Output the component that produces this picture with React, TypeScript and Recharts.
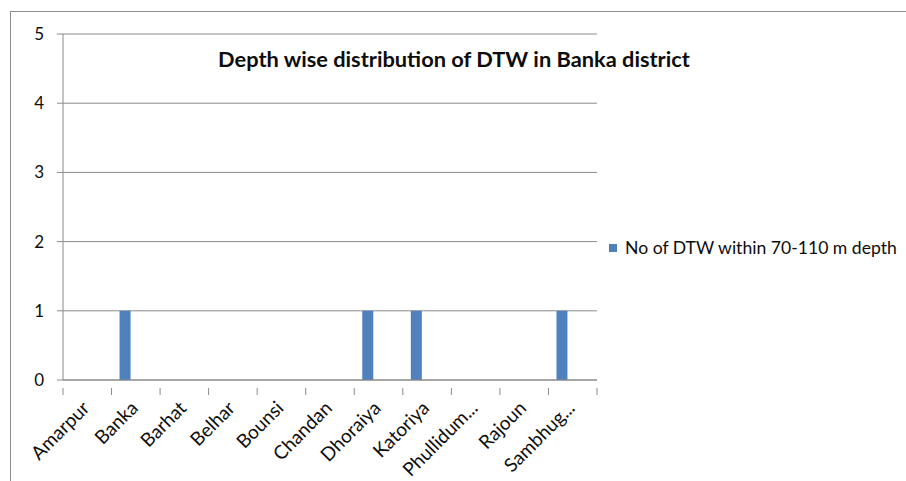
import React from "react";
import {
  Bar,
  BarChart,
  CartesianGrid,
  Customized,
  Legend,
  XAxis,
  YAxis,
} from "recharts";

// Blocks of Banka district
const districts = [
  "Amarpur",
  "Banka",
  "Barhat",
  "Belhar",
  "Bounsi",
  "Chandan",
  "Dhoraiya",
  "Katoriya",
  "Phullidum...",
  "Rajoun",
  "Sambhug...",
];

// Number of deep tube wells per block, 70-110 m band
const dtw70to110 = [0, 1, 0, 0, 0, 0, 1, 1, 0, 0, 1];
// Deeper bands share the category slots but hold no wells
const dtwBandB = [0, 0, 0, 0, 0, 0, 0, 0, 0, 0, 0];
const dtwBandC = [0, 0, 0, 0, 0, 0, 0, 0, 0, 0, 0];

const yTicks = [0, 1, 2, 3, 4, 5];

const TITLE = "Depth wise distribution of DTW  in Banka district";
const SERIES_NAME = "No of DTW within 70-110 m depth";

const data = districts.map((name, i) => ({
  name,
  a: dtw70to110[i],
  b: dtwBandB[i],
  c: dtwBandC[i],
}));

const W = 906;
const H = 481;
const PLOT_LEFT = 63;
const PLOT_RIGHT = 597;
const PLOT_TOP = 34;
const PLOT_BOTTOM = 380;
const BAND = (PLOT_RIGHT - PLOT_LEFT) / districts.length;

const FONT = "Lato, 'Open Sans', sans-serif";
const GRID = "#8a8a8a";
const BLUE = "#4f81bd";
const INK = "#0d0d0d";

// Excel-style category ticks: marks on the band edges, labels at 45°
function CategoryTick(props: any) {
  const { x, y, payload, index } = props;
  const left = x - BAND / 2;
  const right = x + BAND / 2;
  const tx = x - 2;
  const ty = y + 16;
  return (
    <g>
      <line x1={left} y1={y} x2={left} y2={y + 7} stroke={GRID} />
      {index === districts.length - 1 && (
        <line x1={right} y1={y} x2={right} y2={y + 7} stroke={GRID} />
      )}
      <text
        x={tx}
        y={ty}
        transform={`rotate(-45, ${tx}, ${ty})`}
        textAnchor="end"
        dominantBaseline="central"
        fontFamily={FONT}
        fontSize={19}
        fill={INK}
      >
        {payload.value}
      </text>
    </g>
  );
}

function LegendBox(props: any) {
  const items = (props.payload || []).filter((p: any) => p.type !== "none");
  return (
    <div style={{ fontFamily: FONT, fontSize: 17.6, color: INK }}>
      {items.map((p: any) => (
        <div key={p.value} style={{ display: "flex", alignItems: "center" }}>
          <span
            style={{
              display: "inline-block",
              width: 8,
              height: 8,
              background: p.color,
              marginRight: 8,
            }}
          />
          {p.value}
        </div>
      ))}
    </div>
  );
}

function Title() {
  return (
    <text
      x={454}
      y={67}
      textAnchor="middle"
      fontFamily={FONT}
      fontWeight={700}
      fontSize={21.8}
      fill={INK}
    >
      {TITLE}
    </text>
  );
}

export default function App() {
  return (
    <div
      style={{
        position: "absolute",
        left: 0,
        top: 0,
        width: W,
        height: H,
        background: "#fff",
        overflow: "hidden",
      }}
    >
      <div
        style={{
          position: "absolute",
          left: 10,
          top: 11,
          right: -2,
          bottom: -2,
          borderLeft: "1px solid #8c8c8c",
          borderTop: "1px solid #8c8c8c",
        }}
      />
      <BarChart
        width={W}
        height={H}
        data={data}
        margin={{
          top: PLOT_TOP,
          right: W - PLOT_RIGHT,
          left: 0,
          bottom: H - PLOT_BOTTOM - 60,
        }}
        barSize={11}
        barGap={0}
      >
        <CartesianGrid vertical={false} stroke={GRID} />
        <XAxis
          dataKey="name"
          height={60}
          interval={0}
          axisLine={{ stroke: GRID }}
          tickLine={false}
          tick={<CategoryTick />}
        />
        <YAxis
          width={PLOT_LEFT}
          domain={[0, 5]}
          ticks={yTicks}
          interval={0}
          axisLine={{ stroke: GRID }}
          tickLine={{ stroke: GRID }}
          tickSize={6}
          tickMargin={13}
          tick={{ fontFamily: FONT, fontSize: 17, fill: INK }}
        />
        <Bar dataKey="a" name={SERIES_NAME} fill={BLUE} isAnimationActive={false} />
        <Bar dataKey="b" legendType="none" fill={BLUE} isAnimationActive={false} />
        <Bar dataKey="c" legendType="none" fill={BLUE} isAnimationActive={false} />
        <Legend
          layout="horizontal"
          verticalAlign="middle"
          align="center"
          content={<LegendBox />}
          wrapperStyle={{ left: 609, top: 237, width: 297 }}
        />
        <Customized component={Title} />
      </BarChart>
    </div>
  );
}
